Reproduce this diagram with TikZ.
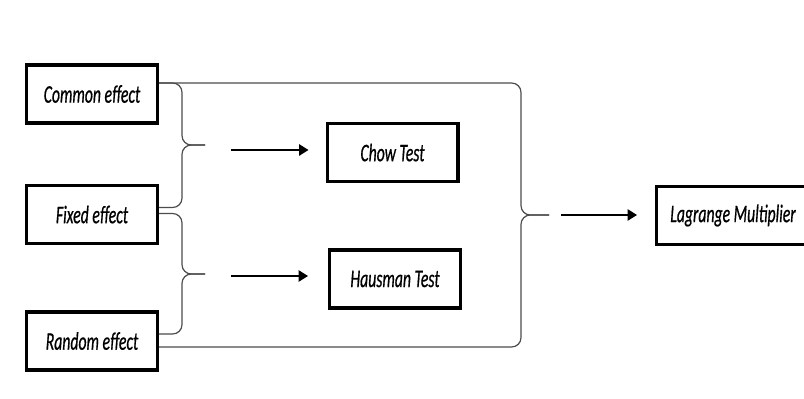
\documentclass[tikz,border=0pt]{standalone}
\usepackage{fontspec}
\setmainfont{Carlito}[FakeStretch=0.62, ItalicFeatures={FakeStretch=0.62, FakeBold=0.6}]
\usetikzlibrary{arrows.meta,calc}

\begin{document}
\begin{tikzpicture}[x=0.75pt,y=-0.75pt]
    % Narrow italic labels, thick boxes, thin grey braces
    \tikzstyle{every node}=[font=\fontsize{19}{21}\selectfont\itshape]
    \tikzstyle{box}=[draw, line width=2.5pt, minimum width=98pt, minimum height=43.5pt, inner sep=0pt]
    \tikzstyle{brace}=[black!70, line width=0.9pt, rounded corners=7pt]
    \tikzstyle{arr}=[line width=1pt, -{Triangle[length=7pt,width=8.5pt]}]

    \useasboundingbox (0,0) rectangle (804,399);

    % The three models on the left
    \node[box] (common) at (92,94) {Common effect};
    \node[box] (fixed) at (92,214.5) {Fixed effect};
    \node[box] (random) at (92,341) {Random effect};

    % The tests
    \node[box] (chow) at (392.5,152.5) {Chow Test};
    \node[box] (hausman) at (395,279) {Hausman Test};
    \node[box, minimum width=114.5pt] (lagrange) at (733,215.5) {Lagrange Multiplier};

    % Tips of the braces
    \coordinate (tip1) at (205,145);
    \coordinate (tip2) at (205,274);
    \coordinate (tip3) at (549,215);

    % Common and fixed effect
    \draw[brace] ($(common.east)+(0,-11)$) -| ($(tip1)+(-23,0)$) -- (tip1);
    \draw[brace] ($(fixed.east)+(0,-7)$) -| ($(tip1)+(-23,0)$) -- (tip1);

    % Fixed and random effect
    \draw[brace] ($(fixed.east)+(0,-1)$) -| ($(tip2)+(-23,0)$) -- (tip2);
    \draw[brace] ($(random.east)+(0,-7)$) -| ($(tip2)+(-23,0)$) -- (tip2);

    % Common and random effect
    \draw[brace] ($(common.east)+(0,-11)$) -| ($(tip3)+(-28,0)$) -- (tip3);
    \draw[brace] ($(random.east)+(0,6)$) -| ($(tip3)+(-28,0)$) -- (tip3);

    % Arrows to the tests
    \coordinate (a1) at (231,150);
    \coordinate (a2) at (231,276);
    \coordinate (a3) at (561,215);
    \draw[arr, shorten >=12.75pt] (a1) -- (a1 -| chow.west);
    \draw[arr, shorten >=15pt] (a2) -- (a2 -| hausman.west);
    \draw[arr, shorten >=13.5pt] (a3) -- (a3 -| lagrange.west);

\end{tikzpicture}
\end{document}
